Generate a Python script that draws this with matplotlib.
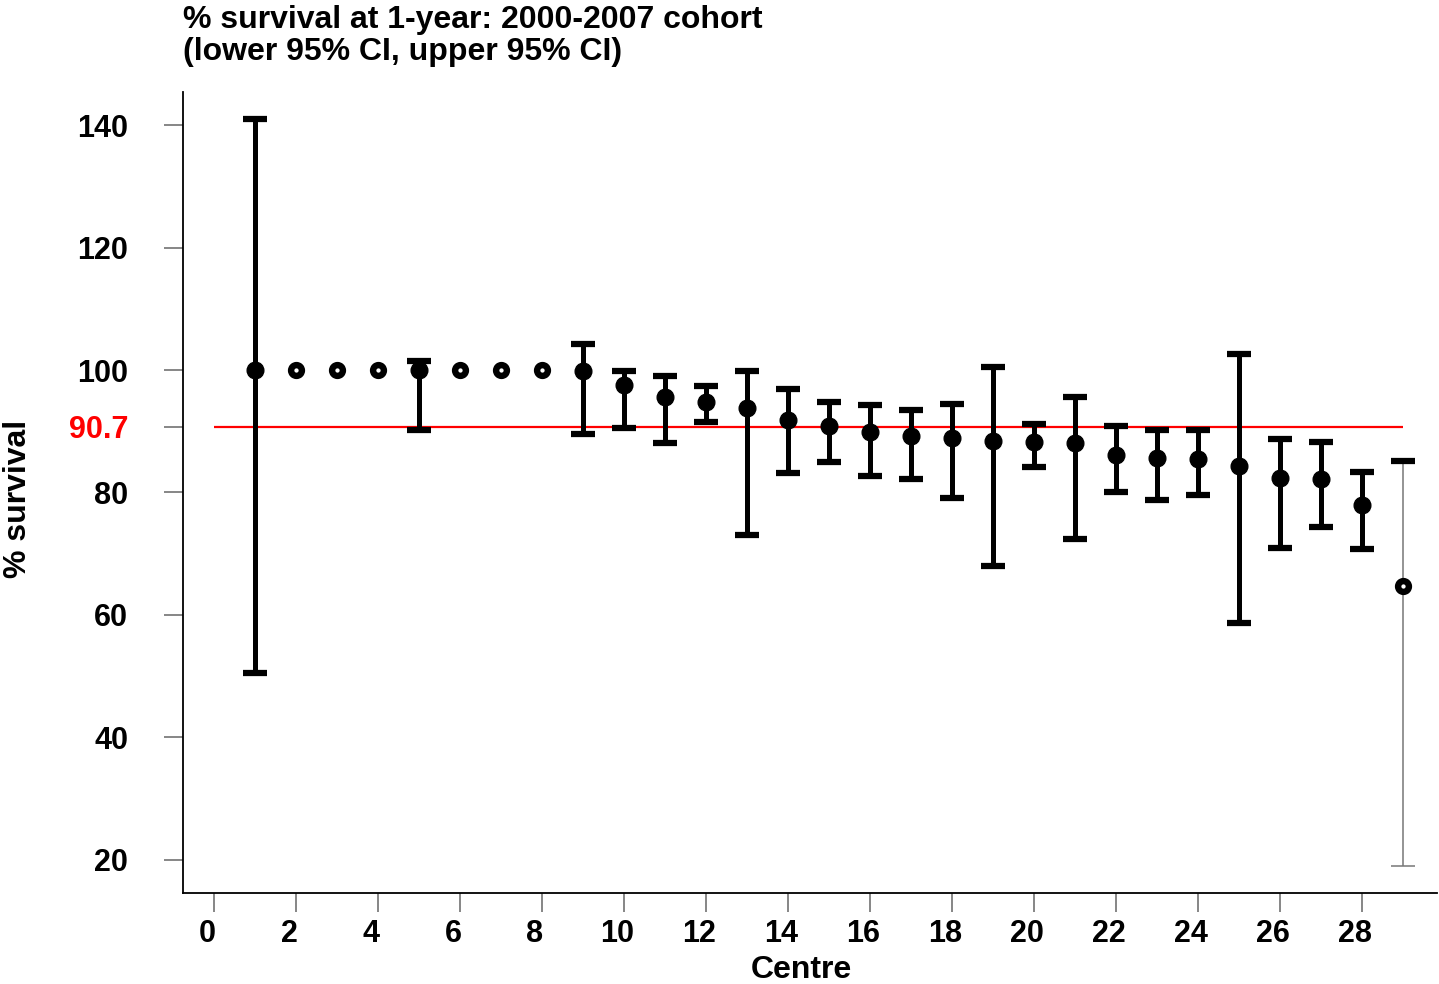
import numpy as np
import matplotlib
matplotlib.use("Agg")
import matplotlib.pyplot as plt
from matplotlib.transforms import ScaledTranslation

plt.rcParams['font.family'] = ['Liberation Sans', 'DejaVu Sans']
plt.rcParams['font.weight'] = 'bold'

# centre number, 1-year survival (%) and 95% CI
centre = np.arange(1, 30)
survival = [100.0, 100.0, 100.0, 100.0, 100.0, 100.0, 100.0, 100.0, 99.8, 97.6,
            95.6, 94.8, 93.8, 91.8, 90.9, 89.9, 89.2, 88.9, 88.4, 88.2,
            88.1, 86.1, 85.6, 85.5, 84.3, 82.4, 82.2, 78.0, 64.7]
lower = [50.5, np.nan, np.nan, np.nan, 90.2, np.nan, np.nan, np.nan, 89.6, 90.5,
         88.1, 91.5, 73.1, 83.2, 85.0, 82.7, 82.2, 79.1, 68.0, 84.2,
         72.4, 80.1, 78.8, 79.6, 58.7, 70.9, 74.3, 70.8, 19.0]
upper = [141.0, np.nan, np.nan, np.nan, 101.5, np.nan, np.nan, np.nan, 104.2, 99.8,
         99.0, 97.4, 99.8, 96.9, 94.8, 94.3, 93.5, 94.4, 100.5, 91.2,
         95.6, 90.9, 90.2, 90.2, 102.6, 88.7, 88.2, 83.3, 85.1]
# hollow marker: no CI shown / small-centre estimate
hollow = [False, True, True, True, False, True, True, True, False, False,
          False, False, False, False, False, False, False, False, False, False,
          False, False, False, False, False, False, False, False, True]
overall = 90.7

survival = np.array(survival)
lower = np.array(lower)
upper = np.array(upper)
hollow = np.array(hollow)

fig = plt.figure(figsize=(14.39, 9.84), dpi=100)
ax = fig.add_axes([0.1272, 0.0925, 0.8714, 0.814])

ax.hlines(overall, 0, 29, color='red', lw=1.6, zorder=1)

# thick CIs for all but the last centre
main = ~np.isnan(lower) & (centre < 29)
ax.errorbar(centre[main], survival[main],
            yerr=[survival[main] - lower[main], upper[main] - survival[main]],
            fmt='none', ecolor='black', elinewidth=3.6, capsize=8.6, capthick=4.5, zorder=2)

# last centre: thin CI line
last = centre == 29
ax.vlines(centre[last], lower[last], upper[last], color='#777777', lw=1.1, zorder=2)
ax.hlines(upper[last], centre[last] - 0.29, centre[last] + 0.29, color='black', lw=4.5, zorder=2)
ax.hlines(lower[last], centre[last] - 0.29, centre[last] + 0.29, color='#777777', lw=1.1, zorder=2)

ax.plot(centre[~hollow], survival[~hollow], 'o', color='black', ms=12, zorder=3)
ax.plot(centre[hollow], survival[hollow], 'o', mfc='white', mec='black', ms=7.8, mew=4.6, zorder=3)

ax.set_xlim(-0.756, 29.83)
ax.set_ylim(14.6, 145.4)
ax.set_xticks(np.arange(0, 29, 2))
yt = [20, 40, 60, 80, overall, 100, 120, 140]
ax.set_yticks(yt)
ax.set_yticklabels(['20', '40', '60', '80', '90.7', '100', '120', '140'])
ax.get_yticklabels()[4].set_color('red')

for s in ['top', 'right']:
    ax.spines[s].set_visible(False)
for s in ['left', 'bottom']:
    ax.spines[s].set_linewidth(1.3)
ax.tick_params(axis='both', direction='out', length=13.5, width=1.1, color='#666666', labelsize=22)
ax.tick_params(axis='y', pad=26)
ax.tick_params(axis='x', pad=5)

# x tick labels sit a little left of their ticks in the original
shift = ScaledTranslation(-7 / 100, 0, fig.dpi_scale_trans)
for lab in ax.get_xticklabels():
    lab.set_transform(lab.get_transform() + shift)

ax.set_xlabel('Centre', fontsize=23, fontweight='bold', labelpad=0)
ax.xaxis.set_label_coords((801 - 183) / (1437 - 183), -0.078)
ax.set_ylabel('% survival', fontsize=23, fontweight='bold')
ax.yaxis.set_label_coords((33 - 183) / (1437 - 183), (893 - 499) / (893 - 92))

fig.text(183 / 1439, 1 - 5 / 984, '% survival at 1-year: 2000-2007 cohort\n(lower 95% CI, upper 95% CI)',
         ha='left', va='top', fontsize=23, fontweight='bold', linespacing=1.08)

fig.savefig('out.png', dpi=100)
